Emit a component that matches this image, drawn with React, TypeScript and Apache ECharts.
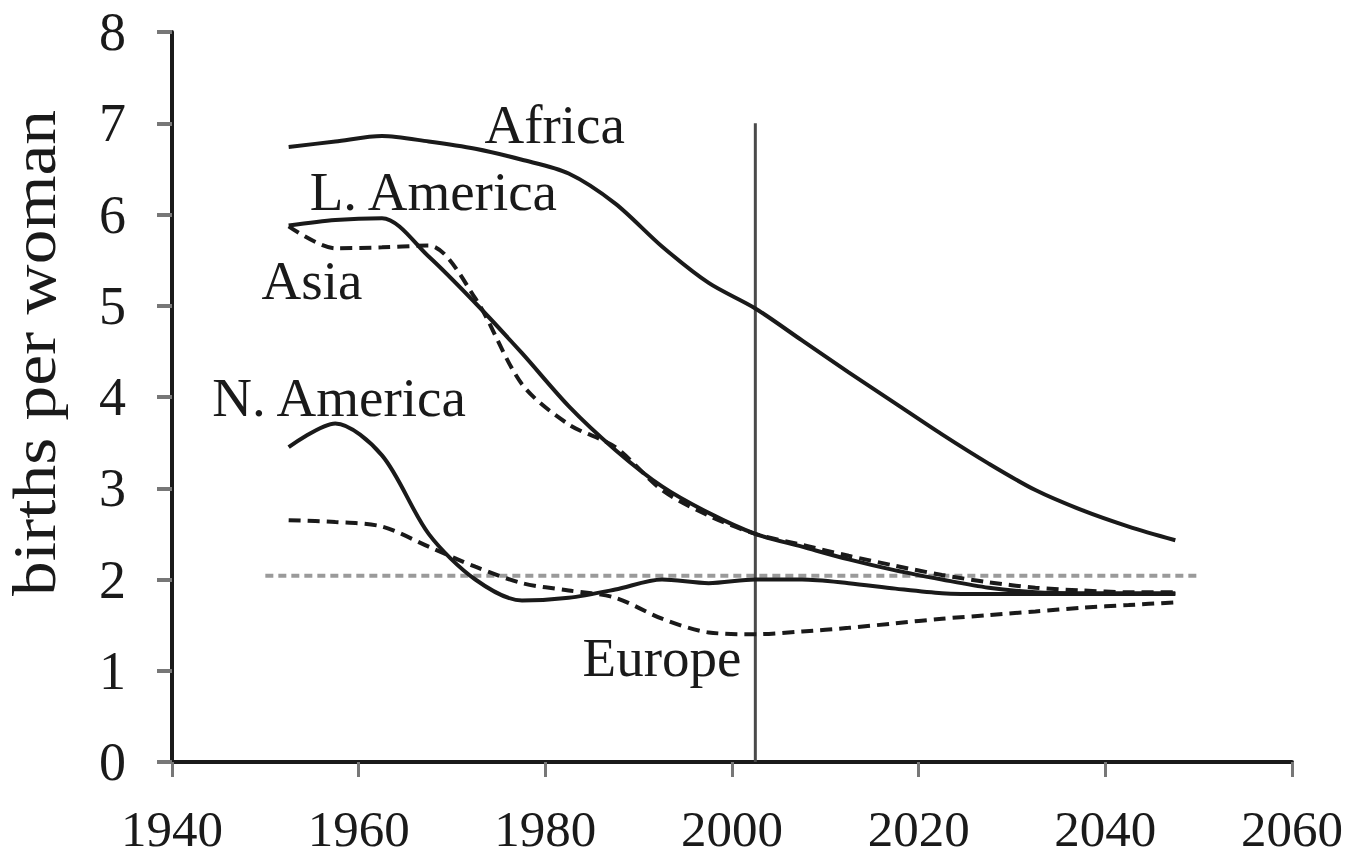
import React, { useEffect, useRef } from "react";
import * as echarts from "echarts";

const years = [1952.5, 1957.5, 1962.5, 1967.5, 1972.5, 1977.5, 1982.5, 1987.5, 1992.5, 1997.5, 2002.5, 2007.5, 2012.5, 2017.5, 2022.5, 2027.5, 2032.5, 2037.5, 2042.5, 2047.5];
const africa = [6.74, 6.8, 6.86, 6.8, 6.72, 6.6, 6.45, 6.12, 5.65, 5.25, 4.97, 4.62, 4.27, 3.93, 3.59, 3.27, 2.98, 2.76, 2.58, 2.43];
const latinAmerica = [5.88, 5.94, 5.96, 5.54, 5.03, 4.48, 3.9, 3.42, 3.02, 2.73, 2.5, 2.36, 2.22, 2.1, 2.0, 1.91, 1.86, 1.85, 1.85, 1.85];
const asia = [5.87, 5.63, 5.64, 5.66, 5.08, 4.14, 3.7, 3.45, 2.98, 2.7, 2.5, 2.38, 2.26, 2.15, 2.05, 1.97, 1.91, 1.88, 1.86, 1.86];
const northAmerica = [3.45, 3.71, 3.36, 2.5, 2.0, 1.77, 1.8, 1.89, 2.0, 1.96, 2.0, 2.0, 1.96, 1.9, 1.85, 1.84, 1.84, 1.84, 1.84, 1.84];
const europe = [2.65, 2.63, 2.58, 2.36, 2.14, 1.96, 1.88, 1.8, 1.57, 1.42, 1.4, 1.43, 1.47, 1.52, 1.57, 1.61, 1.65, 1.69, 1.72, 1.75];

const replacementYears = [1950, 2050];
const replacementLevel = [2.04, 2.04];

const dividerYears = [2002.5, 2002.5];
const dividerValues = [7, 0];

const labelNames = ["Africa", "L. America", "Asia", "N. America", "Europe"];
const labelYears = [1981.0, 1968.0, 1955.0, 1957.9, 1992.5];
const labelValues = [6.99, 6.25, 5.28, 4.0, 1.15];

const xTicks = [1940, 1960, 1980, 2000, 2020, 2040, 2060];
const yTicks = [0, 1, 2, 3, 4, 5, 6, 7, 8];
const yTitle = "births per woman";

const FONT = '"Liberation Serif", "Times New Roman", serif';
const INK = "#1a1a1a";

function pairs(xs: number[], ys: number[]) {
  return xs.map((x, i) => [x, ys[i]]);
}

export default function App() {
  const ref = useRef<HTMLDivElement>(null);
  useEffect(() => {
    if (!ref.current) return;
    const chart = echarts.init(ref.current, null, { renderer: "svg" });
    const lineSeries = (name: string, data: number[], dashed: boolean) => ({
      name,
      type: "line",
      data: pairs(years, data),
      smooth: 0.3,
      showSymbol: false,
      symbol: "none",
      lineStyle: { color: INK, width: 4, type: dashed ? [12, 7] : "solid" },
      z: 3,
    });
    chart.setOption({
      animation: false,
      backgroundColor: "#ffffff",
      grid: { left: 172, right: 56, top: 32, bottom: 93, containLabel: false },
      xAxis: {
        type: "value",
        min: xTicks[0],
        max: xTicks[xTicks.length - 1],
        interval: 20,
        axisLine: { show: true, lineStyle: { color: INK, width: 4 } },
        axisTick: { show: true, length: 15, lineStyle: { color: "#777", width: 3 } },
        axisLabel: {
          margin: 41,
          fontSize: 51,
          fontFamily: FONT,
          color: INK,
          formatter: (v: number) => String(v),
        },
        splitLine: { show: false },
      },
      yAxis: {
        type: "value",
        min: yTicks[0],
        max: yTicks[yTicks.length - 1],
        interval: 1,
        axisLine: { show: true, lineStyle: { color: INK, width: 4 } },
        axisTick: { show: true, length: 15, lineStyle: { color: "#777", width: 4 } },
        axisLabel: { margin: 46, fontSize: 54, fontFamily: FONT, color: INK },
        splitLine: { show: false },
      },
      graphic: [
        {
          type: "text",
          x: 34,
          y: 353,
          rotation: Math.PI / 2,
          scaleX: 1.12,
          style: {
            text: yTitle,
            font: `62px ${FONT}`,
            fill: INK,
            align: "center",
            verticalAlign: "middle",
          },
        },
      ],
      series: [
        {
          name: "Replacement level",
          type: "line",
          data: pairs(replacementYears, replacementLevel),
          showSymbol: false,
          symbol: "none",
          lineStyle: { color: "#9a9a9a", width: 4, type: [8, 5] },
          z: 1,
        },
        {
          name: "2002",
          type: "line",
          data: pairs(dividerYears, dividerValues),
          showSymbol: false,
          symbol: "none",
          lineStyle: { color: "#4a4a4a", width: 3 },
          z: 2,
        },
        lineSeries("Africa", africa, false),
        lineSeries("L. America", latinAmerica, false),
        lineSeries("Asia", asia, true),
        lineSeries("N. America", northAmerica, false),
        lineSeries("Europe", europe, true),
        {
          name: "labels",
          type: "scatter",
          symbolSize: 0.01,
          itemStyle: { color: INK, opacity: 1 },
          data: labelNames.map((n, i) => ({ value: [labelYears[i], labelValues[i]], name: n })),
          label: {
            show: true,
            position: "inside",
            formatter: (p: any) => p.name,
            fontSize: 55,
            fontFamily: FONT,
            color: INK,
            opacity: 1,
            textBorderWidth: 0,
            textBorderColor: "transparent",
          },
          z: 5,
        },
      ],
    });
    return () => chart.dispose();
  }, []);
  return (
    <div
      ref={ref}
      style={{ position: "fixed", left: 0, top: 0, width: 1348, height: 855, background: "#fff" }}
    />
  );
}
